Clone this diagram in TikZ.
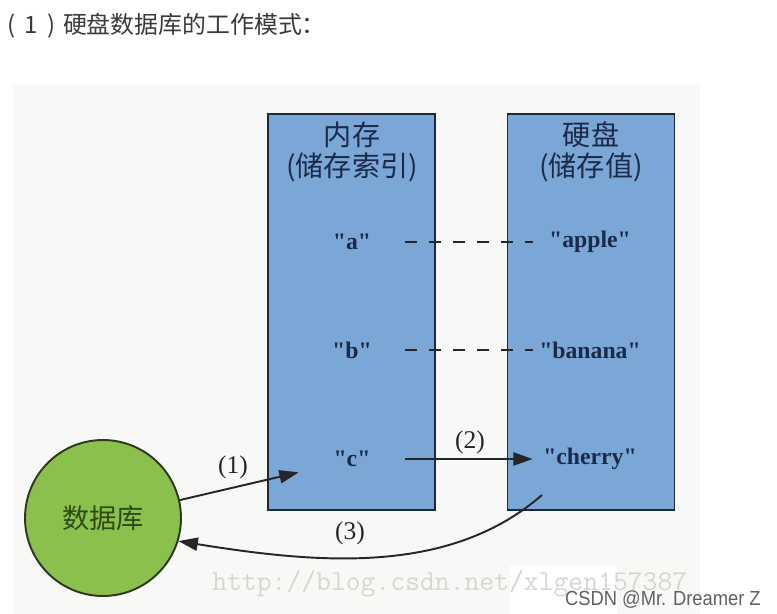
\documentclass[tikz,border=0pt]{standalone}
\usepackage{fontspec}
\setmainfont{Liberation Serif}
\setsansfont{Liberation Sans}
\newfontfamily\cjk{Noto Sans CJK SC}
\newfontfamily\strfont{Liberation Serif}
\usetikzlibrary{arrows.meta,positioning}
\definecolor{panelgray}{HTML}{F8F8F6}
\definecolor{memblue}{HTML}{7BA7D6}
\definecolor{boxedge}{HTML}{1E2A3C}
\definecolor{dbgreen}{HTML}{8CC04C}
\definecolor{dbedge}{HTML}{2A3A1C}
\definecolor{dbtext}{HTML}{2E4A18}
\definecolor{inktext}{HTML}{1B2A48}
\definecolor{titlegray}{HTML}{3A3A3A}
\definecolor{markgray}{HTML}{D6D6D2}
\tikzset{
  store/.style={draw=boxedge, fill=memblue, line width=1.1pt, minimum width=3.34cm, minimum height=7.92cm, inner sep=0pt},
  storelabel/.style={align=center, inner sep=0pt, text=inktext, font=\cjk\fontsize{16}{17.6}\selectfont},
  keytxt/.style={minimum width=2.12cm, minimum height=0.52cm, inner sep=0pt, text=inktext, font=\strfont\bfseries\fontsize{13.5}{16}\selectfont},
  valtxt/.style={minimum width=2.28cm, minimum height=0.52cm, inner sep=0pt, text=inktext, font=\strfont\bfseries\fontsize{13.5}{16}\selectfont},
  dbnode/.style={circle, draw=dbedge, fill=dbgreen, line width=1.1pt, minimum size=3.12cm, inner sep=0pt, text=dbtext, font=\cjk\fontsize{15.5}{18}\selectfont},
  arrow/.style={-{Triangle[length=11pt,width=7.5pt]}, line width=1.1pt, draw=black!85},
  link/.style={line width=1.1pt, draw=black!85, dash pattern=on 6.8pt off 6.8pt},
  steplbl/.style={inner sep=0pt, text=black!85, font=\fontsize{14.5}{17}\selectfont}
}
\begin{document}
\begin{tikzpicture}[x=0.02cm, y=-0.02cm]
\useasboundingbox (0,0) rectangle (777,614);
% ---- panel ----
\fill[panelgray] (13,85) rectangle (700,614);
\node[anchor=west, inner sep=0pt, text=titlegray, font=\cjk\fontsize{13.6}{16}\selectfont] (title) at (7,26) {(\hspace{0.4em}1\hspace{0.4em})\hspace{0.3em}硬盘数据库的工作模式：};
% ---- memory and disk ----
\node[store] (mem) at (351.5,312) {};
\node[store] (disk) at (591,312) {};
\node[storelabel] (memlabel) at (352,152) {内存\\(储存索引)};
\node[storelabel] (disklabel) at (591,152) {硬盘\\(储存值)};
\node[keytxt] (key-a) at (352,242) {"a"};
\node[keytxt] (key-b) at (352,350) {"b"};
\node[keytxt] (key-c) at (352,459) {"c"};
\node[valtxt] (val-a) at (590,242) {"apple"};
\node[valtxt] (val-b) at (590,350) {"banana"};
\node[valtxt] (val-c) at (590,459) {"cherry"};
\draw[link] (key-a.east) -- (val-a.west);
\draw[link] (key-b.east) -- (val-b.west);
% ---- database ----
\node[dbnode] (db) at (103,518) {数据库};
\coordinate (ret) at (542,495);
\draw[arrow] (db) -- (key-c.south west);
\draw[arrow] (key-c.east) -- (val-c.west);
\draw[arrow] (ret) .. controls (450,575) and (320,564) .. (db.-17);
\node[steplbl] (step1) at (233,467) {(1)};
\node[steplbl] (step2) at (470,442) {(2)};
\node[steplbl] (step3) at (350,533) {(3)};
% ---- watermarks ----
\fill[white] (510,565) rectangle (617,614);
\node[anchor=base west, inner sep=0pt, text=markgray, font=\ttfamily\fontsize{16.4}{18}\selectfont] (mark) at (212,590) {http://blog.csdn.net/xlgen157387};
\node[anchor=base east, inner sep=0pt, text=black!62, xscale=0.9, font=\sffamily\fontsize{11.6}{14}\selectfont] (csdn) at (761,605) {CSDN @Mr. Dreamer Z};
\end{tikzpicture}
\end{document}
